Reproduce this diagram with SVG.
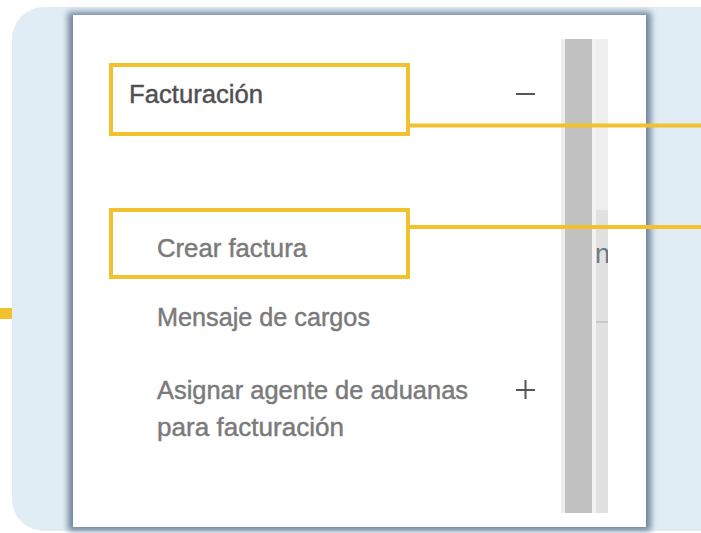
<svg xmlns="http://www.w3.org/2000/svg" width="701" height="533" viewBox="0 0 701 533">
<style>
.hl{fill:none;stroke:#f2c12e;stroke-width:4}
.conn{stroke:#f2c12e;stroke-width:4;fill:none}
.t{font-family:"Liberation Sans",Arial,sans-serif;font-size:26px;stroke-width:0.45px}
.main{fill:#505050;stroke:#505050}
.sub{fill:#7a7a7a;stroke:#7a7a7a}
</style>
<defs>
<filter id="sh" x="-10%" y="-10%" width="120%" height="120%">
<feGaussianBlur stdDeviation="3"/>
</filter>
<clipPath id="sbclip"><rect x="596" y="39" width="12" height="474"/></clipPath>
</defs>
<rect width="701" height="533" fill="#ffffff"/>
<rect id="bg" x="12" y="7" width="720" height="524" rx="32" fill="#e1edf4"/>
<g id="panel">
<rect x="68" y="12" width="583" height="519" fill="#71849b" filter="url(#sh)"/>
<rect x="73" y="15" width="573" height="512" fill="#ffffff"/>
</g>
<g id="scrollbar">
<rect x="561" y="39" width="4" height="474" fill="#ededed"/>
<rect x="565" y="39" width="27" height="474" fill="#c1c1c1"/>
<rect x="592" y="39" width="4" height="474" fill="#f3f3f3"/>
<rect x="596" y="39" width="12" height="171" fill="#efefef"/>
<rect x="596" y="210" width="12" height="303" fill="#e1e1e1"/>
<rect x="596" y="321" width="12" height="2" fill="#c8c8c8"/>
<text x="595" y="263" clip-path="url(#sbclip)" style="font-family:'Liberation Sans',Arial,sans-serif;font-size:27px" fill="#6c7a88">n</text>
</g>
<g id="node-facturacion">
<rect class="hl" x="111" y="65" width="297" height="69"/>
<text class="t main" x="129" y="103" textLength="134" lengthAdjust="spacingAndGlyphs">Facturación</text>
<rect x="516" y="93" width="19" height="2" fill="#555555"/>
</g>
<g id="node-crear">
<rect class="hl" x="111" y="210" width="297" height="67"/>
<text class="t sub" x="157" y="257" textLength="150" lengthAdjust="spacingAndGlyphs">Crear factura</text>
</g>
<g id="node-mensaje">
<text class="t sub" x="157" y="326" textLength="213" lengthAdjust="spacingAndGlyphs">Mensaje de cargos</text>
</g>
<g id="node-asignar">
<text class="t sub" x="157" y="399" textLength="311" lengthAdjust="spacingAndGlyphs">Asignar agente de aduanas</text>
<text class="t sub" x="157" y="436" textLength="187" lengthAdjust="spacingAndGlyphs">para facturación</text>
<rect x="516" y="389" width="19" height="2" fill="#555555"/>
<rect x="524.5" y="380" width="2" height="19" fill="#555555"/>
</g>
<g id="connectors">
<line class="conn" x1="408" y1="125.5" x2="701" y2="125.5"/>
<line class="conn" x1="408" y1="227" x2="701" y2="227"/>
<rect x="0" y="308" width="12" height="11" fill="#f2c12e"/>
</g>
</svg>
